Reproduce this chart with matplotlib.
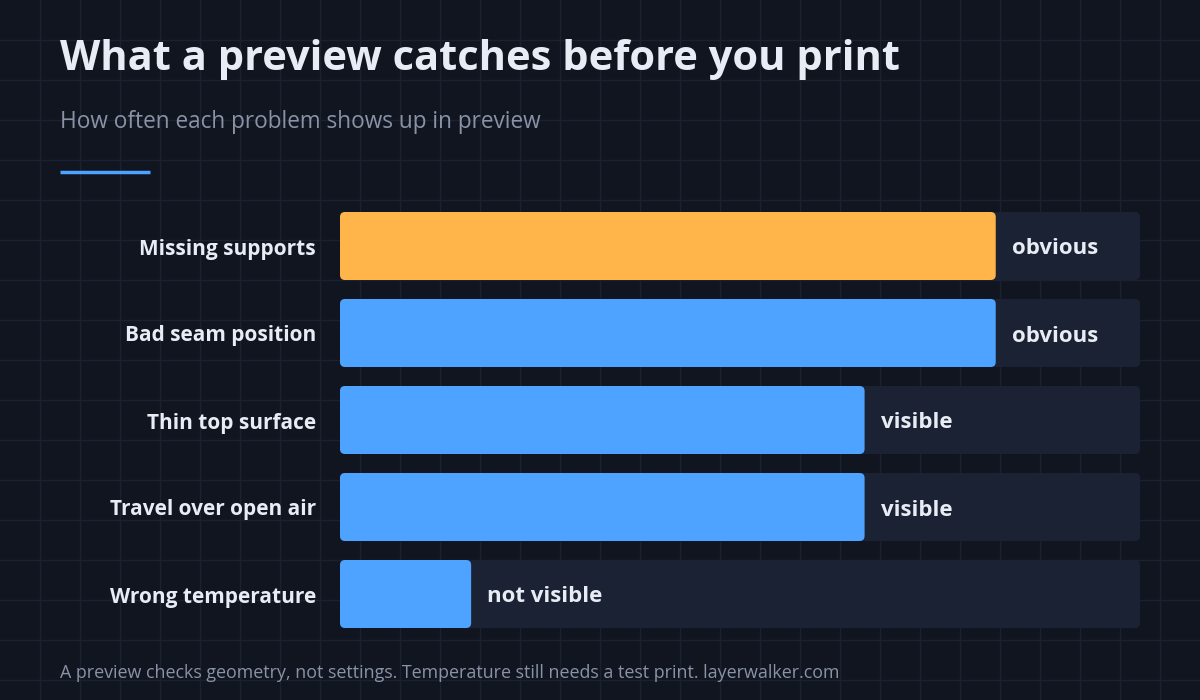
import matplotlib
matplotlib.use("Agg")
import matplotlib.pyplot as plt
from matplotlib.patches import FancyBboxPatch
from matplotlib.lines import Line2D

# data
problems = ["Missing supports", "Bad seam position", "Thin top surface",
            "Travel over open air", "Wrong temperature"]
scores = [5, 5, 4, 4, 1]
verdicts = ["obvious", "obvious", "visible", "visible", "not visible"]
highlight = "Missing supports"
score_max = 6.1

title = "What a preview catches before you print"
subtitle = "How often each problem shows up in preview"
footer = "A preview checks geometry, not settings. Temperature still needs a test print. layerwalker.com"

BG = "#111520"
GRID = "#1c2130"
TRACK = "#1a2233"
BLUE = "#4da3ff"
ORANGE = "#ffb54a"
TXT = "#e8ecf4"
MUTED = "#8a93a6"

plt.rcParams['font.family'] = ['Open Sans', 'DejaVu Sans']

W, H = 1200, 700
fig = plt.figure(figsize=(12, 7), dpi=100, facecolor=BG)

# background grid, 40px
for gx in range(40, W, 40):
    fig.add_artist(Line2D([gx / W, gx / W], [0, 1], color=GRID, lw=1, zorder=0))
for gy in range(40, H, 40):
    fig.add_artist(Line2D([0, 1], [1 - gy / H, 1 - gy / H], color=GRID, lw=1, zorder=0))

fig.text(60 / W, 1 - 70 / H, title, color=TXT, fontsize=30, fontweight='bold', va='baseline')
fig.text(60 / W, 1 - 128 / H, subtitle, color=MUTED, fontsize=16.3, va='baseline')
fig.add_artist(Line2D([60 / W, 150 / W], [1 - 172 / H, 1 - 172 / H], color=BLUE, lw=2.5,
                      solid_capstyle='butt'))
fig.text(60 / W, 1 - 678 / H, footer, color=MUTED, fontsize=12.9, va='baseline')

# bar area
left, right, top, bottom = 340, 1140, 212, 628
ax = fig.add_axes([left / W, 1 - bottom / H, (right - left) / W, (bottom - top) / H])
ax.set_facecolor('none')
bh = 68 / 87
ax.set_xlim(0, score_max)
ax.set_ylim(len(problems) - 1 + bh / 2, -bh / 2)
ax.axis('off')

px_x = (right - left) / score_max
px_y = 87
aspect = px_x / px_y
r = 5 / px_x
dy = 3 / px_y  # nudge text down a little

for i, (name, s, v) in enumerate(zip(problems, scores, verdicts)):
    ax.add_patch(FancyBboxPatch((0, i - bh / 2), score_max, bh,
                                boxstyle=f"round,pad=0,rounding_size={r}",
                                mutation_aspect=aspect, fc=TRACK, ec='none'))
    col = ORANGE if name == highlight else BLUE
    ax.add_patch(FancyBboxPatch((0, i - bh / 2), s, bh,
                                boxstyle=f"round,pad=0,rounding_size={r}",
                                mutation_aspect=aspect, fc=col, ec='none'))
    ax.text(s + 16 / px_x, i + dy, v, color=TXT, fontsize=16, fontweight='bold',
            va='center', ha='left')
    ax.text(-24 / px_x, i + dy, name, color=TXT, fontsize=15, fontweight='bold',
            va='center', ha='right', clip_on=False)

fig.savefig("out.png", dpi=100, facecolor=BG)
